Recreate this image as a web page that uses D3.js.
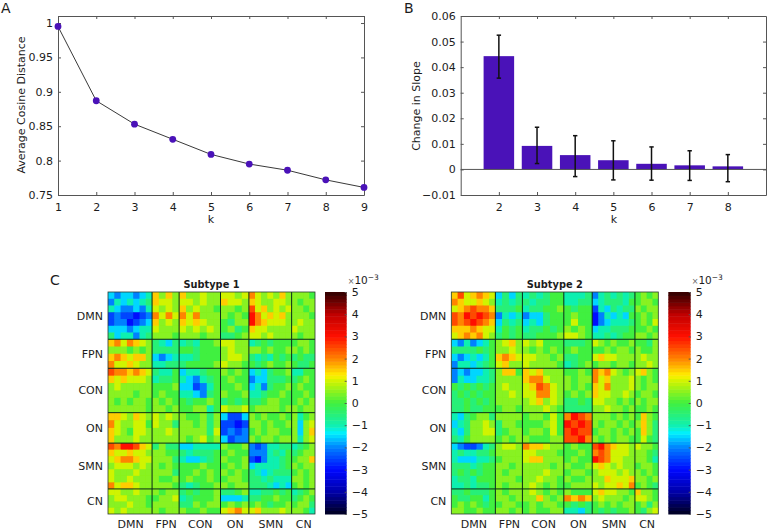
<html>
<head>
<meta charset="utf-8">
<script src="https://d3js.org/d3.v7.min.js"></script>
<style>
body { margin: 0; background: #fff; }
text { font-family: "DejaVu Sans", sans-serif; fill: #1c1c1c; }
</style>
</head>
<body>
<svg id="fig" width="768" height="530"></svg>
<script>
// panel A
const kA = [1, 2, 3, 4, 5, 6, 7, 8, 9];
const distance = [0.995, 0.887, 0.853, 0.831, 0.809, 0.795, 0.786, 0.772, 0.761];
const distanceTicks = [0.75, 0.8, 0.85, 0.9, 0.95, 1];

// panel B
const kB = [2, 3, 4, 5, 6, 7, 8];
const slope = [0.0443, 0.0092, 0.0056, 0.0036, 0.0022, 0.0016, 0.0012];
const slopeHigh = [0.0525, 0.0165, 0.0132, 0.0112, 0.0088, 0.0073, 0.0058];
const slopeLow = [0.0357, 0.0023, -0.0028, -0.0041, -0.0042, -0.0043, -0.0048];
const slopeTicks = [-0.01, 0, 0.01, 0.02, 0.03, 0.04, 0.05, 0.06];

// panel C, values in units of 1e-3, read block by block
const networks = ["DMN", "FPN", "CON", "ON", "SMN", "CN"];
const networkSize = [132, 81, 124, 85, 128, 70];
const cellsPerNetwork = [7, 4, 6, 4, 7, 4];
const barTicks = [-5, -4, -3, -2, -1, 0, 1, 2, 3, 4, 5];
const jetStops = [-5, -4, -3, -2, -1.35, -1, 0, 1, 1.25, 2, 3, 4, 5];
const jetColors = ["#00001e", "#0000a8", "#0008ff", "#0080ff", "#00f0ff", "#10f0b0", "#40f040", "#d0f400", "#fff000", "#ff8400", "#ff1000", "#c00000", "#2c0000"];

const subtype1 = [
[-1.5,-2,-1.5,-1.5,-2,-1.5,-1,1.5,.5,1.5,.5,1.5,.5,.5,1,.5,.5,1,1,.5,1,2,1,.5,1,.5,1.5,.5,.5,.5,.5,0],
[-2,-1,-1.5,-1,-1.5,-1,-.5,1.5,1,1,.5,1,1,.5,1,.5,.5,1.5,1,1,.5,1.5,1,.5,.5,1,1,.5,.5,0,.5,.5],
[-1,-1.5,-2,-2,-1.5,-2,-1,1,.5,1,.5,1.5,.5,1,.5,.5,0,.5,.5,0,.5,2.5,1,1.5,.5,1,.5,1,.5,.5,0,.5],
[-2.5,-2,-2.5,-2.5,-3,-2.5,-2,2,1,2,1,2,1,2,.5,.5,.5,.5,0,.5,0,3,2,1,1.5,1,1.5,.5,.5,.5,.5,0],
[-2.5,-2,-2,-3,-2.5,-2,-1.5,1.5,.5,1,.5,1.5,1,1.5,1,.5,.5,0,-.5,.5,.5,3,2,1.5,1,1,1,.5,.5,1,.5,.5],
[-1.5,-1.5,-1.5,-2,-1.5,-1,-1,1,.5,.5,.5,1,.5,1,.5,1,.5,0,.5,-.5,0,1.5,1,1,.5,.5,.5,.5,1,.5,.5,.5],
[-.5,-1.5,-1,-1,-2,-1,-.5,.5,.5,.5,0,.5,.5,.5,0,.5,.5,-.5,-.5,0,.5,1,1,.5,1,.5,.5,.5,.5,0,.5,.5],
[1.5,2,1,2,1.5,1,.5,-.5,-1,-1.5,-.5,-1,-.5,-1,0,0,.5,1,1,.5,.5,-1,-.5,0,-.5,0,0,0,0,.5,.5,0],
[.5,.5,.5,0,.5,0,.5,-.5,-.5,-.5,-.5,0,0,-.5,0,0,0,.5,1,.5,.5,.5,.5,0,.5,0,0,.5,.5,0,.5,0],
[1.5,2,1.5,1,1.5,1.5,.5,-1.5,-2,-1.5,-1,-1,-1,-.5,0,0,0,.5,1,1,.5,-.5,-1,-.5,-1,0,-.5,0,-.5,0,-.5,-.5],
[2,1,1,1.5,1,.5,.5,-1,-1,-.5,-.5,-.5,0,0,0,0,.5,1,.5,.5,0,0,-.5,0,.5,0,0,.5,0,-.5,-.5,0],
[2.5,2,2,1.5,2,1.5,1,-.5,-1,-1,0,-1.5,-1,-1,-.5,0,0,.5,0,.5,0,-1.5,-1,-1.5,-.5,0,0,.5,-1,-1,0,0],
[1.5,1,1.5,1,1,1,.5,-1,-.5,-.5,0,-1,-1.5,-2,-1,-.5,0,0,.5,0,0,-2,-1.5,-1.5,-.5,-.5,-.5,0,-.5,0,.5,0],
[.5,1,.5,.5,.5,.5,.5,0,0,0,.5,-1.5,-1.5,-2.5,-2,-1,0,0,0,.5,0,-1.5,-1,-2,-.5,0,0,.5,0,.5,0,0],
[.5,.5,.5,.5,0,.5,.5,0,.5,0,0,-1,-1,-1.5,-2,-.5,0,.5,0,0,.5,-1,-1,-.5,0,0,.5,0,0,0,.5,0],
[.5,0,.5,0,.5,.5,0,.5,0,.5,0,0,-.5,0,0,.5,0,-.5,0,-.5,0,-.5,-.5,0,.5,.5,0,0,0,.5,0,.5],
[.5,.5,.5,.5,.5,.5,0,.5,.5,0,.5,0,0,.5,.5,-1,0,1,.5,.5,1,0,.5,.5,.5,.5,0,.5,.5,0,.5,.5],
[1.5,1.5,1,.5,1.5,1,.5,1,.5,1,.5,.5,0,0,.5,-.5,.5,-1.5,-2.5,-2.5,-1.5,.5,0,.5,0,0,.5,0,.5,-1,0,.5],
[2,1,.5,.5,1,1,0,1,.5,.5,-.5,.5,.5,0,.5,-.5,.5,-2.5,-2.5,-3,-2.5,.5,.5,0,.5,0,0,.5,.5,-1.5,.5,1],
[1.5,1,.5,0,1,1,.5,.5,.5,1,.5,.5,.5,.5,.5,-.5,1,-2.5,-2,-2.5,-2,0,.5,0,.5,.5,0,0,.5,-1.5,.5,1.5],
[1.5,.5,.5,.5,1,.5,.5,.5,.5,.5,.5,.5,0,.5,1,0,.5,-1.5,-2.5,-2,-2,.5,0,.5,.5,0,.5,.5,.5,-1,.5,1],
[2.5,2,3,3,2.5,1.5,1,-.5,.5,-.5,-.5,-1.5,-1.5,-1,-1,-1,-1,.5,0,0,.5,-2,-2.5,-2,-1,-1,-.5,-.5,-1,-.5,0,.5],
[1.5,1,1,1.5,1,1,.5,.5,.5,0,0,-.5,-1,-.5,-.5,-.5,0,0,.5,0,0,-2,-2,-2,-1,-.5,-1,0,-.5,0,.5,.5],
[1,1.5,2,2,1.5,1,1,.5,.5,.5,-.5,-1,-1.5,-1.5,-1,-.5,0,.5,0,0,.5,-2.5,-3,-2,-1,-1,-.5,0,0,.5,.5,1.5],
[.5,1,1,1,.5,1,.5,.5,0,.5,0,0,0,0,.5,0,0,0,.5,0,.5,-1.5,-1,-1,-1,-1,-.5,0,.5,0,.5,.5],
[1,.5,.5,.5,1,.5,.5,.5,.5,.5,-.5,0,0,.5,0,.5,0,.5,0,.5,0,-.5,-1,-1.5,-1,-.5,-.5,-.5,0,.5,0,.5],
[1,.5,.5,1,.5,.5,.5,.5,0,0,.5,0,.5,0,0,.5,0,0,.5,.5,0,-.5,-.5,-1,-.5,-1,-1,-1,.5,.5,0,.5],
[2,1,1.5,1.5,1,.5,.5,.5,.5,.5,0,-.5,-1,-.5,0,0,.5,.5,0,.5,.5,-.5,-.5,-.5,-1,-1.5,-1,-1.5,0,.5,0,.5],
[1,1,.5,.5,1,.5,.5,.5,0,.5,.5,-.5,0,-.5,0,0,.5,-.5,-.5,0,.5,-1,-1,-.5,-.5,0,-.5,0,-1,-.5,0,.5],
[.5,1,1,.5,.5,.5,0,0,.5,.5,1,-1,-.5,0,0,0,.5,-1.5,-1.5,-1.5,-1,-.5,-.5,0,0,.5,0,0,-.5,0,.5,0],
[.5,.5,.5,1,.5,.5,0,.5,.5,.5,.5,-.5,-.5,.5,0,.5,.5,0,.5,0,.5,0,.5,0,-.5,0,0,.5,0,.5,.5,-.5],
[1,.5,1,.5,.5,.5,.5,.5,0,.5,.5,.5,0,0,.5,0,0,1,1.5,2,1,1,1.5,.5,.5,.5,1,.5,.5,.5,0,-1]
];

const subtype2 = [
[1.5,2.5,1,1.5,2,1.5,1,-1.5,-.5,-1.5,-.5,-1,-.5,-1,-.5,0,0,-1,-1,-1,-.5,-2,-1,-.5,-1,-.5,-1,-.5,0,.5,0,.5],
[2,1.5,1,1,1.5,1,.5,-1,-.5,-1,-.5,-.5,-1,-.5,-.5,0,0,-1,-1,-.5,-.5,-1.5,-1,-.5,-.5,-.5,-1,0,0,.5,.5,0],
[1,1.5,2,2.5,2,2,1.5,-.5,-.5,-.5,0,-1,-.5,-.5,0,0,.5,0,-.5,0,0,-2.5,-1,-1.5,-.5,-1,-.5,-.5,.5,0,.5,.5],
[2.5,2,3,2.5,3,2.5,2,-2,-1,-1.5,-1,-2,-1.5,-1.5,-.5,0,0,0,.5,0,0,-3,-2,-1,-1.5,-1,-1.5,0,0,.5,0,.5],
[2.5,2,2.5,3,2.5,2,1.5,-1.5,-.5,-1,-.5,-1.5,-1,-1.5,-.5,0,0,0,1,0,0,-3,-2,-1.5,-1,-1,-1,-.5,0,.5,0,1],
[1.5,1.5,1.5,2,1.5,1,1,-1,0,-.5,0,-1,-.5,-.5,0,-.5,0,.5,0,.5,0,-1.5,-1,-1,-.5,-.5,-.5,0,0,0,.5,0],
[1,1.5,2,1.5,2,1,.5,-.5,0,-.5,0,-.5,-.5,0,0,0,.5,1,1,.5,0,-1,-1,-.5,-1,-.5,0,0,.5,.5,0,.5],
[-1.5,-2,-1,-2,-1.5,-1,0,.5,1,1.5,.5,1,.5,1,0,0,0,-.5,-.5,-.5,0,1,.5,0,.5,0,0,.5,0,0,-.5,.5],
[-.5,-.5,-.5,-.5,0,-.5,0,.5,.5,1,.5,.5,0,.5,0,.5,0,0,.5,0,0,0,0,.5,0,.5,.5,0,.5,0,0,.5],
[-1.5,-2,-1.5,-1,-1.5,-1,0,1.5,2,1.5,1,1,1,.5,.5,0,.5,-.5,-.5,0,0,1,1.5,1,1,.5,.5,.5,.5,1,.5,.5],
[-2,-1,-1,-1.5,-1,-.5,0,1,1.5,.5,.5,1,.5,.5,.5,.5,0,-1,-.5,0,.5,0,.5,.5,0,.5,.5,0,.5,.5,1,.5],
[-2,-1.5,-2,-1.5,-1.5,-1,-.5,.5,1.5,1.5,0,1.5,1,1.5,.5,.5,.5,0,0,.5,0,2,1.5,2,1,.5,0,.5,1,1.5,.5,0],
[-2,-1,-1.5,-1.5,-1,-1,-.5,.5,.5,.5,.5,1.5,2,2,1,.5,.5,.5,0,.5,.5,2,1,1.5,.5,.5,.5,1,.5,0,.5,0],
[0,-.5,0,-.5,0,-.5,0,.5,1,.5,.5,1,1.5,2.5,2,1,.5,.5,0,.5,0,1.5,1,2,.5,.5,.5,1,.5,0,.5,.5],
[-.5,0,-.5,0,-.5,0,0,.5,.5,1,.5,1,1,2,2,1,.5,0,.5,0,.5,1.5,1,1,.5,.5,1,.5,0,.5,.5,0],
[-.5,-.5,0,-.5,0,-.5,0,.5,.5,.5,.5,.5,1,1.5,.5,1,.5,-.5,-.5,0,-.5,1,1,.5,.5,0,.5,0,.5,0,.5,.5],
[-.5,-.5,0,-.5,-.5,0,0,0,.5,.5,0,.5,.5,.5,1,.5,0,-.5,-.5,-.5,-.5,.5,.5,1,.5,.5,0,.5,0,0,.5,0],
[-1,-1.5,-.5,0,.5,.5,-.5,.5,.5,.5,.5,0,.5,.5,0,1,0,2,3,2.5,2,.5,.5,.5,0,.5,0,.5,0,1.5,.5,0],
[-1.5,-1,-.5,.5,.5,1,.5,-.5,.5,.5,0,0,0,0,.5,1,0,3,2.5,3,2.5,.5,0,.5,.5,0,.5,0,.5,1.5,.5,-.5],
[-1,-1.5,-.5,.5,.5,1,1,-.5,0,.5,.5,0,.5,.5,0,1,0,2.5,3,2.5,2.5,0,.5,.5,0,.5,0,.5,0,1.5,.5,-.5],
[-.5,-1,0,.5,.5,.5,.5,0,.5,0,.5,.5,0,0,0,.5,.5,2.5,2.5,3,2,.5,0,.5,0,.5,.5,0,0,1,0,-.5],
[-1.5,-2,-2.5,-2.5,-2,-1,-.5,.5,1,1,.5,2,1.5,1.5,1,.5,.5,0,.5,0,0,2.5,3,2,1.5,1,1,.5,1,.5,.5,0],
[-1,-.5,-1,-1,-.5,-.5,0,.5,.5,.5,.5,1,1,.5,.5,.5,0,0,0,.5,0,2,2.5,2,1,1,1,.5,.5,.5,0,-.5],
[-1,-1.5,-1.5,-1.5,-1,-1,-.5,0,.5,.5,.5,1,1.5,1.5,.5,.5,.5,0,.5,0,0,3,2.5,2,1,1,.5,.5,.5,.5,0,-1],
[-.5,-.5,-.5,-1,-.5,0,0,.5,.5,0,.5,.5,.5,.5,.5,0,.5,.5,0,0,.5,1,1.5,1,.5,1,.5,.5,0,.5,.5,0],
[-.5,0,-.5,0,-.5,0,0,.5,0,.5,.5,.5,.5,.5,1,.5,.5,0,.5,.5,0,.5,1,1,1,.5,1,.5,.5,0,.5,0],
[-1,-.5,-.5,-1,0,0,0,.5,.5,.5,0,.5,.5,1,.5,.5,0,.5,0,0,.5,.5,.5,1.5,1,1,1,1.5,.5,.5,0,.5],
[-1,-1,-.5,-1,-.5,-.5,0,.5,0,.5,.5,.5,1,.5,0,.5,0,0,.5,.5,.5,1,.5,1,1,1.5,1,2,0,.5,0,-.5],
[-.5,-.5,0,-.5,-.5,-.5,0,.5,0,.5,.5,.5,1,.5,0,.5,0,.5,0,0,0,1,1.5,1,1,.5,.5,0,1.5,.5,.5,0],
[0,-.5,-.5,0,0,-1,0,.5,.5,0,.5,.5,.5,1.5,.5,0,.5,2,1.5,2,1.5,.5,1,.5,.5,.5,0,.5,1,1,.5,0],
[0,.5,0,.5,0,-.5,0,0,.5,.5,0,0,.5,0,.5,.5,0,0,-.5,0,-.5,0,.5,0,.5,0,.5,.5,0,.5,-.5,.5],
[.5,.5,0,0,.5,0,0,.5,.5,0,.5,0,.5,0,0,.5,.5,-1,-1,-1.5,-.5,0,-.5,0,-.5,0,0,.5,0,-.5,.5,1]
];

const svg = d3.select("#fig");
const frameColor = "#555";

// filter for the soft look of the heat maps
svg.append("defs").append("filter").attr("id", "soft")
  .attr("x", "-2%").attr("y", "-2%").attr("width", "104%").attr("height", "104%")
  .append("feGaussianBlur").attr("stdDeviation", 0.6);

function styleAxis(g, size) {
  g.selectAll("path").attr("stroke", frameColor);
  g.selectAll("line").attr("stroke", frameColor);
  g.selectAll("text").style("font-size", size + "px");
}

function frame(x, y, xTicks, yTicks, fmtY) {
  const [x0, x1] = x.range();
  const [y0, y1] = y.range();
  const g = svg.append("g");
  g.append("g").attr("transform", `translate(0,${y1})`)
    .call(d3.axisTop(x).tickValues(xTicks).tickSizeInner(-3).tickSizeOuter(0).tickFormat(""))
    .call(styleAxis, 11);
  g.append("g").attr("transform", `translate(${x1},0)`)
    .call(d3.axisRight(y).tickValues(yTicks).tickSizeInner(-3).tickSizeOuter(0).tickFormat(""))
    .call(styleAxis, 11);
  g.append("g").attr("transform", `translate(0,${y0})`)
    .call(d3.axisBottom(x).tickValues(xTicks).tickSizeInner(-3).tickSizeOuter(0).tickPadding(8).tickFormat(d3.format("d")))
    .call(styleAxis, 11);
  g.append("g").attr("transform", `translate(${x0},0)`)
    .call(d3.axisLeft(y).tickValues(yTicks).tickSizeInner(-3).tickSizeOuter(0).tickPadding(5).tickFormat(fmtY))
    .call(styleAxis, 11);
}

function panelLetter(s, x, y) {
  svg.append("text").attr("x", x).attr("y", y).style("font-size", "14px").text(s);
}

function axisTitle(s, x, y, rotate) {
  const t = svg.append("text").attr("text-anchor", "middle").style("font-size", "11px").text(s);
  if (rotate) t.attr("transform", `translate(${x},${y}) rotate(-90)`);
  else t.attr("x", x).attr("y", y);
}

// panel A
const xA = d3.scaleLinear().domain([1, 9]).range([58, 364]);
const yA = d3.scaleLinear().domain([0.75, 1.0102]).range([195, 16]);
frame(xA, yA, kA, distanceTicks, d3.format("~g"));
const lineA = d3.line().x((d, i) => xA(kA[i])).y(d => yA(d));
svg.append("path").attr("d", lineA(distance)).attr("fill", "none").attr("stroke", "#222").attr("stroke-width", 0.9);
svg.selectAll("circle.dist").data(distance).enter().append("circle").attr("class", "dist")
  .attr("cx", (d, i) => xA(kA[i])).attr("cy", d => yA(d)).attr("r", 3.4).attr("fill", "#4a12b8");
axisTitle("Average Cosine Distance", 25, 105, true);
axisTitle("k", 211, 223);
panelLetter("A", 1, 13);

// panel B
const xB = d3.scaleLinear().domain([1, 9]).range([460.7, 766]);
const yB = d3.scaleLinear().domain([-0.01, 0.06]).range([195, 16]);
frame(xB, yB, kB, slopeTicks, d3.format("~g"));
const barW = xB(1.8) - xB(1);
svg.selectAll("rect.bar").data(slope).enter().append("rect").attr("class", "bar")
  .attr("x", (d, i) => xB(kB[i]) - barW / 2).attr("width", barW)
  .attr("y", d => yB(d)).attr("height", d => yB(0) - yB(d))
  .attr("fill", "#4a12b8");
svg.append("line").attr("x1", xB.range()[0]).attr("x2", xB.range()[1]).attr("y1", yB(0)).attr("y2", yB(0))
  .attr("stroke", frameColor).attr("stroke-width", 1);
const errs = svg.append("g").attr("stroke", "#111").attr("stroke-width", 1.5);
kB.forEach((k, i) => {
  errs.append("line").attr("x1", xB(k)).attr("x2", xB(k)).attr("y1", yB(slopeHigh[i])).attr("y2", yB(slopeLow[i]));
  [slopeHigh[i], slopeLow[i]].forEach(v => {
    errs.append("line").attr("x1", xB(k) - 2.2).attr("x2", xB(k) + 2.2).attr("y1", yB(v)).attr("y2", yB(v));
  });
});
axisTitle("Change in Slope", 420, 106, true);
axisTitle("k", 614, 223);
panelLetter("B", 404, 13);

// panel C
const color = d3.scaleLinear().domain(jetStops).range(jetColors).clamp(true);
const totalSize = d3.sum(networkSize);
const blockEdges = Array.from(d3.cumsum([0].concat(networkSize)));

// one cell per entry, each network divided evenly into its cells
const cellEdges = [];
cellsPerNetwork.forEach((n, b) => {
  d3.range(n).forEach(i => cellEdges.push(blockEdges[b] + networkSize[b] * i / n));
});
cellEdges.push(totalSize);

function heatmap(values, title, left, right, top, bottom, barLeft, barRight) {
  const x = d3.scaleLinear().domain([0, totalSize]).range([left, right]);
  const y = d3.scaleLinear().domain([0, totalSize]).range([top, bottom]);

  const clipId = "clip" + Math.round(left);
  svg.select("defs").append("clipPath").attr("id", clipId)
    .append("rect").attr("x", left).attr("y", top).attr("width", right - left).attr("height", bottom - top);

  const holder = svg.append("g").attr("clip-path", `url(#${clipId})`);
  holder.append("rect").attr("x", left).attr("y", top).attr("width", right - left).attr("height", bottom - top).attr("fill", "#60e830");
  const cells = holder.append("g").attr("filter", "url(#soft)");
  values.forEach((row, r) => {
    row.forEach((v, c) => {
      cells.append("rect")
        .attr("x", x(cellEdges[c])).attr("width", x(cellEdges[c + 1]) - x(cellEdges[c]) + 0.5)
        .attr("y", y(cellEdges[r])).attr("height", y(cellEdges[r + 1]) - y(cellEdges[r]) + 0.5)
        .attr("fill", color(v));
    });
  });

  // network dividers
  blockEdges.slice(1, -1).forEach(e => {
    svg.append("line").attr("x1", x(e)).attr("x2", x(e)).attr("y1", top).attr("y2", bottom).attr("stroke", "#0a2a1a").attr("stroke-width", 1);
    svg.append("line").attr("y1", y(e)).attr("y2", y(e)).attr("x1", left).attr("x2", right).attr("stroke", "#0a2a1a").attr("stroke-width", 1);
  });
  svg.append("rect").attr("x", left).attr("y", top).attr("width", right - left).attr("height", bottom - top)
    .attr("fill", "none").attr("stroke", "#2a3a30").attr("stroke-width", 0.8);

  // network labels sit at the block centres
  const mids = networks.map((n, i) => blockEdges[i] + networkSize[i] / 2);
  const names = d => networks[mids.indexOf(d)];
  svg.append("g").attr("transform", `translate(0,${bottom})`)
    .call(d3.axisBottom(x).tickValues(mids).tickSize(0).tickPadding(6).tickFormat(names))
    .call(styleAxis, 11).call(g => g.select("path").remove());
  svg.append("g").attr("transform", `translate(${left},0)`)
    .call(d3.axisLeft(y).tickValues(mids).tickSize(0).tickPadding(5).tickFormat(names))
    .call(styleAxis, 11).call(g => g.select("path").remove());

  svg.append("text").attr("x", (left + right) / 2).attr("y", 288).attr("text-anchor", "middle")
    .style("font-size", "9.8px").style("font-weight", "bold").text(title);

  // colour bar
  const yBar = d3.scaleLinear().domain([-5, 5]).range([bottom, top]);
  const steps = d3.range(64).map(i => -5 + i * 10 / 64);
  svg.append("g").selectAll("rect").data(steps).enter().append("rect")
    .attr("x", barLeft).attr("width", barRight - barLeft)
    .attr("y", d => yBar(d + 10 / 64)).attr("height", (bottom - top) / 64 + 0.5)
    .attr("fill", d => color(d + 5 / 64));
  svg.append("g").attr("transform", `translate(${barRight},0)`)
    .call(d3.axisRight(yBar).tickValues(barTicks).tickSizeInner(-2).tickSizeOuter(0).tickPadding(5).tickFormat(d3.format("d")))
    .call(styleAxis, 11).call(g => g.select("path").attr("stroke", "none"));

  const mult = svg.append("text").attr("x", barRight + 1).attr("y", 284).style("font-size", "10.5px");
  mult.append("tspan").style("font-size", "8px").style("fill", "#666").text("×");
  mult.append("tspan").text("10");
  mult.append("tspan").attr("dy", -4).style("font-size", "7.5px").text("−3");
}

heatmap(subtype1, "Subtype 1", 108, 315, 292, 514, 325, 346.7);
heatmap(subtype2, "Subtype 2", 451.3, 658.3, 292, 514, 668.3, 690.7);
panelLetter("C", 50, 285);
</script>
</body>
</html>
